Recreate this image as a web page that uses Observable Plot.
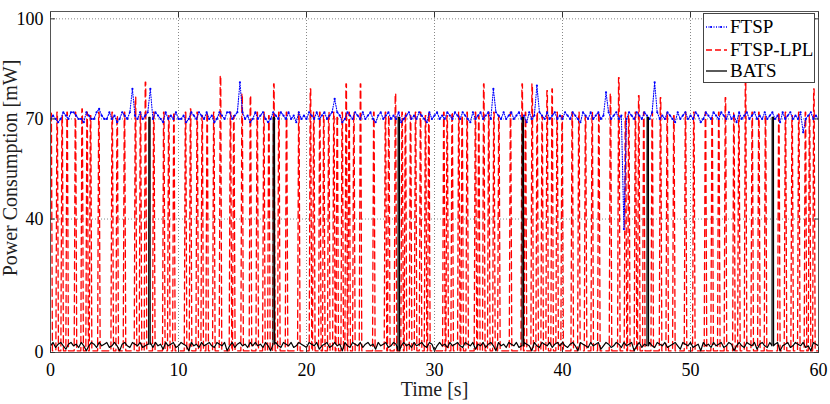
<!DOCTYPE html>
<html><head><meta charset="utf-8">
<script src="https://cdn.jsdelivr.net/npm/d3@7"></script>
<script src="https://cdn.jsdelivr.net/npm/@observablehq/plot@0.6"></script>
<style>
body{margin:0;background:#fff;}
#wrap{position:relative;width:830px;height:404px;font-family:"Liberation Serif","Times New Roman",serif;}
#legend{position:absolute;left:703px;top:13px;width:112px;height:70px;border:1px solid #444;background:#fff;box-sizing:border-box;}
.row{position:absolute;left:0;height:22px;display:flex;align-items:center;font-size:19px;color:#000;white-space:nowrap;}
.row svg{margin-left:2px;margin-right:3px;}
</style></head>
<body><div id="wrap"><div id="legend"></div></div>
<script>
// ---- data ----
const sampleStep = 0.2; // s between FTSP / BATS samples
const ftspValues = [
70,71,70,69,70,72,71,70,72,72,71,70,70,69,72,71,70,70,72,73,
71,70,70,72,70,71,69,70,72,71,70,72,79,71,70,72,70,71,72,79,
70,72,71,70,69,72,70,71,70,72,70,70,71,69,70,72,71,70,72,71,
70,72,70,71,69,70,72,71,70,72,72,70,71,72,81,72,70,71,69,70,
72,70,71,72,70,69,70,72,71,70,72,71,70,72,70,71,69,72,70,71,
70,72,71,70,72,70,71,72,70,71,72,76,72,71,69,70,72,71,70,72,
71,70,72,70,71,72,70,69,71,72,70,71,72,70,71,70,72,69,70,71,
72,70,71,70,72,71,70,69,72,70,71,72,70,71,70,72,71,70,72,71,
70,72,71,70,69,72,70,71,72,70,71,72,70,79,72,71,70,72,70,71,
72,70,71,72,70,71,69,72,70,71,80,72,71,70,72,70,71,72,70,71,
70,72,71,70,72,71,70,69,72,71,70,72,70,71,72,70,71,78,72,70,
71,72,70,71,37,70,72,71,70,72,71,70,72,71,70,72,81,72,70,71,
70,72,71,70,69,72,70,71,72,70,71,70,72,71,69,70,72,71,70,72,
71,70,72,71,70,72,70,71,69,72,70,71,72,70,71,72,70,71,70,72,
70,71,72,70,71,69,72,70,71,72,70,71,70,72,66,70,71,72,70,71,
70];
const batsBase = [
2,3,1.5,2.5,3,2,1,2.5,3,2,2.5,1.5,3,2,0.5,2,3,2.5,1.5,3,
2,2.5,3,1.5,2,3,2,0.5,2.5,3,2,1.5,3,2.5,2,3,1.5,2,2.5,3,
1.5,3,2,2.5,1,3,2,2.5,3,1.5,2,3,2.5,2,0.5,3,2,2.5,1.5,3,
2,2.5,3,2,1.5,3,2.5,2,3,0.5,2,3,1.5,2.5,3,2,2.5,1.5,3,2,
3,2,2.5,1.5,3,2,0.5,2.5,3,2,1.5,3,2.5,2,3,1.5,2,3,2.5,2,
1.5,3,2.5,2,3,1,2,2.5,3,1.5,2,3,2,2.5,0.5,3,2,1.5,3,2.5,
2,3,1.5,2.5,3,2,2.5,1,3,2,2.5,3,1.5,2,3,2.5,0.5,2,3,2,
2.5,1.5,3,2,2.5,3,2,1.5,3,2.5,0.5,2,3,2,2.5,1.5,3,2,2.5,3,
2,1.5,3,2.5,2,3,1,2.5,2,3,1.5,2.5,3,2,0.5,3,2,2.5,1.5,3,
2.5,2,3,1.5,2,3,2.5,2,0.5,3,2,1.5,3,2.5,2,3,1.5,2.5,3,2,
3,2,1.5,2.5,3,2,0.5,3,2.5,2,1.5,3,2,2.5,3,1,2,3,2.5,1.5,
2,3,2.5,1.5,3,2,2.5,3,0.5,2,3,1.5,2.5,2,3,2,1.5,3,2.5,2,
3,1.5,2,2.5,3,2,1,3,2.5,2,3,1.5,2,2.5,0.5,3,2,2.5,1.5,3,
2,2.5,3,1.5,2,3,2.5,0.5,2,3,2,1.5,3,2.5,2,3,1,2.5,3,2,
1.5,3,2,2.5,3,0.5,2,2.5,3,1.5,2,3,2.5,2,3,1.5,2,0.5,3,2.5,
2];
const batsSpikeT = [7.68, 17.40, 27.16, 36.85, 46.61, 56.38];
const batsSpikePeak = [70.5, 70.5, 70.5, 70.5, 70.5, 70.5];
const batsSpikeWidth = 0.1;
const lplT = [0.05,0.52,0.91,1.30,1.95,2.47,2.86,3.13,3.78,4.82,5.21,5.78,6.64,7.03,7.42,8.07,8.85,9.24,9.64,10.55,
10.94,11.46,11.85,12.24,12.76,13.28,14.06,14.32,14.97,15.62,16.15,16.67,17.06,17.45,17.84,18.44,19.40,20.31,20.57,21.04,
21.35,21.74,22.14,22.40,22.79,23.10,23.33,23.70,24.22,25.26,26.17,26.43,26.95,27.47,27.73,28.13,28.52,28.91,29.30,29.56,
30.73,30.99,31.38,31.90,32.16,32.55,33.20,33.46,33.85,34.24,34.64,35.03,35.94,36.85,37.11,37.63,38.02,38.41,38.80,39.19,
39.58,39.97,40.76,41.28,41.80,42.32,42.84,43.75,44.40,44.92,45.18,45.70,45.96,46.35,47.01,47.66,48.18,48.70,49.61,50.26,
51.17,51.69,52.21,52.73,53.39,53.78,54.30,54.82,55.34,55.86,56.90,57.42,57.94,58.46,58.98,59.30,59.64];
const lplPeak = [72,72,71,72,72,73,72,71,72,72,71,72,76.5,72,81,72,72,71,72,72,
73,72,71,72,72,83,72,71,77.6,77,72,72,71,80.5,72,72,72,79,72,72,
71,72,72,71,72,80.5,72,72,80.5,72,72,71,77.6,72,72,71,72,72,71,72,
72,71,72,72,71,72,72,71,80.5,72,72,71,72,80.5,72,80.5,72,71,78.5,79,
72,71,72,72,71,72,72,77.6,82.4,72,71,72,77,72,72,76.4,72,71,72,72,
72,71,72,76.4,72,71,82,72,72,71,72,72,71,72,72,71,79];
const lplLow = 0.5;
const lplHalfWidth = 0.1;
const xTicks = [0,10,20,30,40,50,60];
const xGrid = [10,20,30,40,50];
const yTicks = [0,40,70,100];
const yGrid = [40,70,100];
const seriesNames = ["FTSP","FTSP-LPL","BATS"];
const seriesColors = ["#0000ff","#ff0000","#000000"];

// ---- tables ----
const ftsp = ftspValues.map((v,i)=>({t:+(i*sampleStep).toFixed(2), v}));
let bats = batsBase.map((v,i)=>({t:+(i*sampleStep).toFixed(2), v}));
// drop base samples that fall inside a spike window, then add the spikes
bats = bats.filter(d => !batsSpikeT.some(t => d.t >= t - 0.02 && d.t <= t + batsSpikeWidth + 0.02));
batsSpikeT.forEach((t,i)=>{
  const b = batsBase[Math.round(t/sampleStep)];
  bats.push({t:t-0.01, v:b});
  bats.push({t, v:batsSpikePeak[i]});
  bats.push({t:t+batsSpikeWidth, v:batsSpikePeak[i]});
  bats.push({t:t+batsSpikeWidth+0.01, v:b});
});
bats.sort((a,b)=>a.t-b.t);
const lpl = [{t:-0.2, v:lplLow}];
lplT.forEach((t,i)=>{
  lpl.push({t:t-lplHalfWidth, v:lplLow});
  lpl.push({t:t-0.02, v:lplPeak[i]});
  lpl.push({t:t+0.02, v:lplPeak[i]});
  lpl.push({t:t+lplHalfWidth, v:lplLow});
});
lpl.push({t:60.2, v:lplLow});
lpl.sort((a,b)=>a.t-b.t);

const font = "Liberation Serif";
const chart = Plot.plot({
  width: 830, height: 404,
  marginLeft: 50, marginRight: 12, marginTop: 11, marginBottom: 52,
  style: {fontFamily: font, background: "#fff"},
  x: {domain: [0, 60]},
  y: {domain: [0, 102.2]},
  marks: [
    Plot.gridX({ticks: xGrid, stroke: "#888", strokeOpacity: 1, strokeDasharray: "1,2"}),
    Plot.gridY({ticks: yGrid, stroke: "#888", strokeOpacity: 1, strokeDasharray: "1,2"}),
    Plot.line(lpl, {x: "t", y: "v", stroke: seriesColors[1], strokeWidth: 1.3, strokeDasharray: "7,4", clip: true}),
    Plot.line(ftsp, {x: "t", y: "v", stroke: seriesColors[0], strokeWidth: 1.1, strokeDasharray: "1,1.5", clip: true}),
    Plot.dot(ftsp, {x: "t", y: "v", r: 1.1, fill: seriesColors[0], stroke: "none", clip: true}),
    Plot.line(bats, {x: "t", y: "v", stroke: seriesColors[2], strokeWidth: 1.2, clip: true}),
    Plot.frame({stroke: "#555"}),
    Plot.axisX({ticks: xTicks, anchor: "bottom", tickSize: 0, tickPadding: 11, fontSize: 18, label: null}),
    Plot.axisY({ticks: yTicks, anchor: "left", tickSize: 0, tickPadding: 7, fontSize: 18, label: null}),
    Plot.axisX({ticks: xTicks, anchor: "bottom", tickSize: -5, tickFormat: () => "", label: null, stroke: "#333"}),
    Plot.axisX({ticks: xTicks, anchor: "top", tickSize: -5, tickFormat: () => "", label: null, stroke: "#333"}),
    Plot.axisY({ticks: yTicks, anchor: "left", tickSize: -5, tickFormat: () => "", label: null, stroke: "#333"}),
    Plot.axisY({ticks: yTicks, anchor: "right", tickSize: -5, tickFormat: () => "", label: null, stroke: "#333"}),
    Plot.text(["Time [s]"], {frameAnchor: "bottom", text: d => d, textAnchor: "middle", lineAnchor: "middle", dy: 37, fontSize: 20, fill: "#222"}),
    Plot.text(["Power Consumption [mW]"], {frameAnchor: "left", text: d => d, textAnchor: "middle", lineAnchor: "middle", rotate: -90, dx: -40, dy: -14, fontSize: 20, fill: "#222"})
  ]
});
const wrap = document.getElementById("wrap");
wrap.insertBefore(chart, wrap.firstChild);

// legend
const legend = document.getElementById("legend");
const rowTops = [2, 25, 46];
seriesNames.forEach((name, i) => {
  const row = document.createElement("div");
  row.className = "row";
  row.style.top = rowTops[i] + "px";
  const dash = i === 0 ? "1,1.5" : i === 1 ? "6,3" : null;
  let svg = `<svg width="21" height="10"><line x1="0" y1="5" x2="21" y2="5" stroke="${seriesColors[i]}" stroke-width="1.3" ${dash ? `stroke-dasharray="${dash}"` : ""}/>`;
  if (i === 0) svg += `<circle cx="5" cy="5" r="1.1" fill="${seriesColors[0]}"/><circle cx="15" cy="5" r="1.1" fill="${seriesColors[0]}"/>`;
  svg += `</svg>`;
  row.innerHTML = svg + `<span>${name}</span>`;
  legend.appendChild(row);
});
</script>
</body></html>
